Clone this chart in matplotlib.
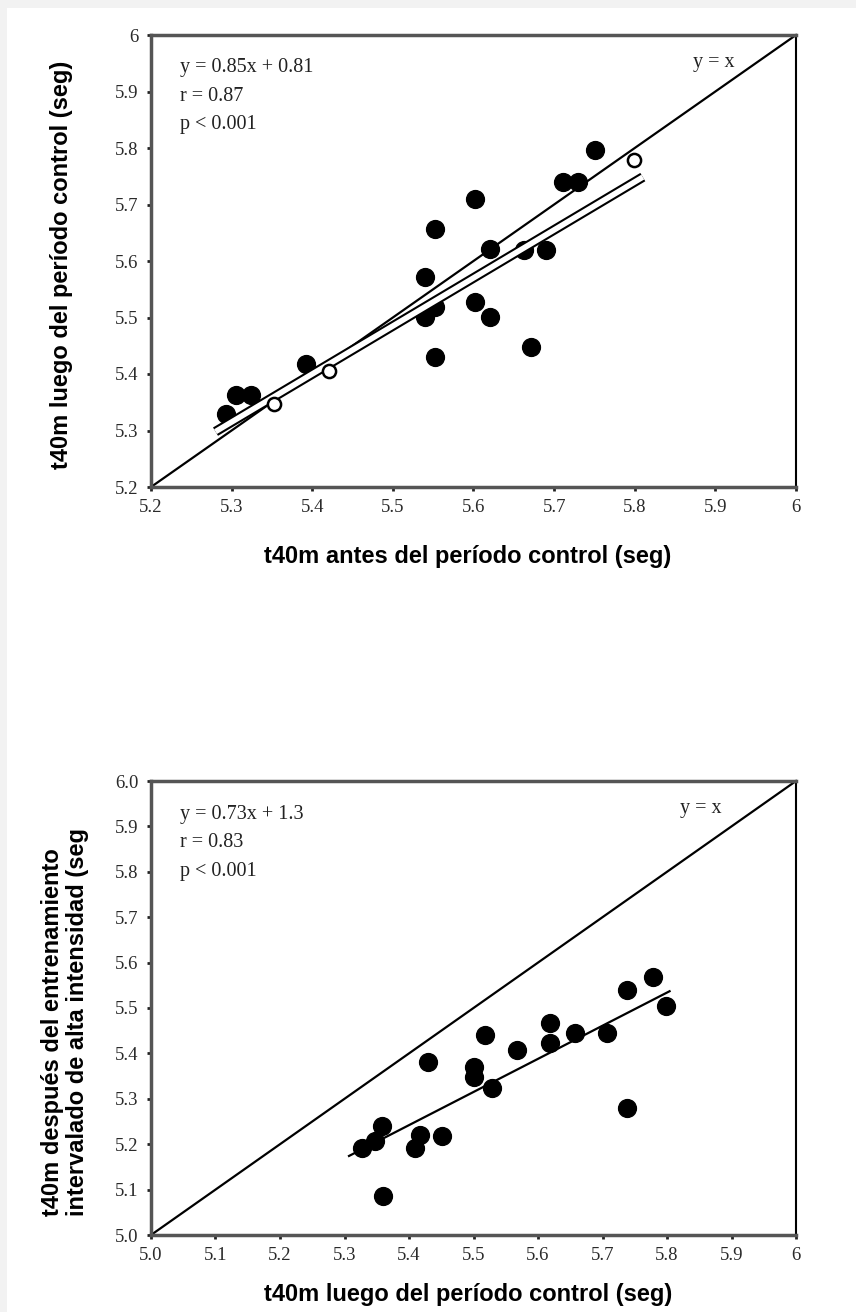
import matplotlib
matplotlib.use("Agg")
import matplotlib.pyplot as plt
import matplotlib.patheffects as pe
from matplotlib.patches import Rectangle

# top panel: t40m before vs after the control period
top_x = [5.293, 5.305, 5.324, 5.392, 5.552, 5.540, 5.552, 5.540, 5.552,
         5.602, 5.602, 5.620, 5.620, 5.663, 5.690, 5.671, 5.711, 5.730, 5.751]
top_y = [5.329, 5.362, 5.362, 5.418, 5.657, 5.571, 5.518, 5.501, 5.430,
         5.710, 5.527, 5.501, 5.621, 5.619, 5.619, 5.447, 5.740, 5.740, 5.796]
top_open_x = [5.353, 5.421, 5.799]
top_open_y = [5.347, 5.406, 5.778]
top_fit = (0.85, 0.81)
top_fit_range = [5.28, 5.81]
top_stats = ["y = 0.85x + 0.81", "r = 0.87", "p < 0.001"]
top_xticks = [5.2, 5.3, 5.4, 5.5, 5.6, 5.7, 5.8, 5.9, 6.0]
top_xlabels = ["5.2", "5.3", "5.4", "5.5", "5.6", "5.7", "5.8", "5.9", "6"]
top_ylabels = ["5.2", "5.3", "5.4", "5.5", "5.6", "5.7", "5.8", "5.9", "6"]

# bottom panel: after control vs after interval training
bot_x = [5.327, 5.347, 5.358, 5.360, 5.409, 5.417, 5.451, 5.430, 5.500, 5.500,
         5.528, 5.518, 5.567, 5.619, 5.619, 5.657, 5.707, 5.738, 5.778, 5.798, 5.738]
bot_y = [5.191, 5.206, 5.239, 5.086, 5.191, 5.220, 5.218, 5.382, 5.371, 5.349,
         5.323, 5.441, 5.407, 5.466, 5.422, 5.446, 5.446, 5.540, 5.568, 5.504, 5.279]
bot_fit = (0.73, 1.3)
bot_fit_range = [5.307, 5.804]
bot_stats = ["y = 0.73x + 1.3", "r = 0.83", "p < 0.001"]
bot_xticks = [5.0, 5.1, 5.2, 5.3, 5.4, 5.5, 5.6, 5.7, 5.8, 5.9, 6.0]
bot_xlabels = ["5.0", "5.1", "5.2", "5.3", "5.4", "5.5", "5.6", "5.7", "5.8", "5.9", "6"]
bot_ylabels = ["5.0", "5.1", "5.2", "5.3", "5.4", "5.5", "5.6", "5.7", "5.8", "5.9", "6.0"]

serif = "Liberation Serif"
sans = "Liberation Sans"

fig = plt.figure(figsize=(8.56, 13.12), dpi=100, facecolor="#f2f2f2")
fig.patches.append(Rectangle((7 / 856, 0), 1, 1 - 8 / 1312, transform=fig.transFigure,
                             facecolor="white", edgecolor="none", zorder=-10))


def style_axes(ax, ticks, xlabels, ylabels):
    lo, hi = ticks[0], ticks[-1]
    ax.set_xlim(lo, hi)
    ax.set_ylim(lo, hi)
    ax.set_xticks(ticks)
    ax.set_yticks(ticks)
    ax.set_xticklabels(xlabels)
    ax.set_yticklabels(ylabels)
    for lab in ax.get_xticklabels() + ax.get_yticklabels():
        lab.set_fontfamily(serif)
        lab.set_fontsize(13.5)
        lab.set_color("#2a2a2a")
    ax.tick_params(direction="out", length=3, width=2, color="#222222", pad=6)
    for side in ["left", "bottom", "top"]:
        ax.spines[side].set_linewidth(2.5)
        ax.spines[side].set_color("#555555")
    ax.spines["right"].set_linewidth(1.5)
    ax.spines["right"].set_color("black")
    ax.set_facecolor("white")
    ax.plot([lo, hi], [lo, hi], color="black", lw=1.6, zorder=2, clip_on=False)


def stats_text(ax, lines, ident_x, ident_y):
    for i, line in enumerate(lines):
        ax.text(0.045, 0.927 - i * 0.063, line, transform=ax.transAxes,
                fontfamily=serif, fontsize=14.5, color="#222222", va="center")
    ax.text(ident_x, ident_y, "y = x", transform=ax.transAxes,
            fontfamily=serif, fontsize=14.5, color="#222222", va="center")


# top axes
ax1 = fig.add_axes([151 / 856, 1 - 487 / 1312, 645 / 856, 452 / 1312])
style_axes(ax1, top_xticks, top_xlabels, top_ylabels)
m, b = top_fit
ax1.plot(top_fit_range, [m * v + b for v in top_fit_range], color="white", lw=4.0,
         solid_capstyle="butt", zorder=4,
         path_effects=[pe.Stroke(linewidth=7.0, foreground="black", capstyle="butt"), pe.Normal()])
ax1.scatter(top_x, top_y, s=165, color="black", zorder=3)
ax1.scatter(top_open_x, top_open_y, s=90, facecolor="white", edgecolor="black",
            linewidths=1.8, zorder=5)
stats_text(ax1, top_stats, 0.84, 0.94)

# bottom axes
ax2 = fig.add_axes([151 / 856, 1 - 1235 / 1312, 645 / 856, 454 / 1312])
style_axes(ax2, bot_xticks, bot_xlabels, bot_ylabels)
m, b = bot_fit
ax2.plot(bot_fit_range, [m * v + b for v in bot_fit_range], color="black", lw=1.6, zorder=2)
ax2.scatter(bot_x, bot_y, s=165, color="black", zorder=3)
stats_text(ax2, bot_stats, 0.82, 0.94)

# axis titles
lab_kw = dict(fontfamily=sans, fontweight="bold", fontsize=17, color="black")
fig.text(468 / 856, 1 - 557 / 1312, "t40m antes del período control (seg)",
         ha="center", va="center", **lab_kw)
fig.text(62 / 856, 1 - 265 / 1312, "t40m luego del período control (seg)",
         ha="center", va="center", rotation=90, **lab_kw)
fig.text(468 / 856, 1 - 1295 / 1312, "t40m luego del período control (seg)",
         ha="center", va="center", **lab_kw)
fig.text(65 / 856, 1 - 1022 / 1312,
         "t40m después del entrenamiento\nintervalado de alta intensidad (seg",
         ha="center", va="center", rotation=90, multialignment="left",
         linespacing=1.1, **lab_kw)

fig.savefig("out.png", dpi=100, facecolor=fig.get_facecolor())
